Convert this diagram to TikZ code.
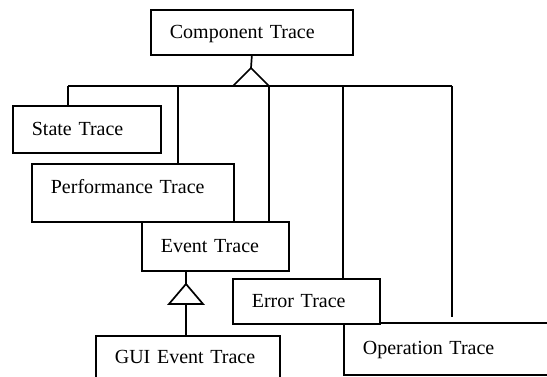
\documentclass[tikz,border=0pt]{standalone}
\usepackage{fontspec}
\setmainfont{Liberation Serif}
\begin{document}
\begin{tikzpicture}[x=1pt,y=-1pt,line width=1.7pt,
  cls/.style={draw,fill=white,anchor=north west,align=left,inner xsep=19pt,inner ysep=0pt,
    text height=14pt,text depth=2pt,font=\fontsize{20}{24}\selectfont}]
\useasboundingbox (0,0) rectangle (547,377);

% classes
\node[cls,text width=164pt,minimum height=45pt] (comp) at (150,9) {Component Trace};
\node[cls,text width=110pt,minimum height=47pt] (state) at (12,105) {State Trace};
\node[cls,text width=164pt,minimum height=58pt,text depth=12pt] (perf) at (31,163) {Performance Trace};
\node[cls,text width=109pt,minimum height=49pt] (event) at (141,221) {Event Trace};
\node[cls,text width=182pt,minimum height=52pt] (op) at (343,322) {Operation Trace};
\node[cls,text width=109pt,minimum height=45pt] (err) at (232,278) {Error Trace};
\node[cls,text width=146pt,minimum height=43pt] (gui) at (95,335) {GUI Event Trace};

% inheritance from Component Trace
\coordinate (apex1) at (251,68);
\draw (comp.south) -- (apex1);
\draw (apex1) -- ++(-18,18) -- ++(36,0) -- cycle;
\coordinate (b1) at (68,86);
\coordinate (b2) at (178,86);
\coordinate (b3) at (269,86);
\coordinate (b4) at (343,86);
\coordinate (b5) at (452,86);
\draw (b1) -- (b5);
\draw (b1) -- (b1 |- state.north);
\draw (b2) -- (b2 |- perf.north);
\draw (b3) -- (b3 |- event.north);
\draw (b4) -- (b4 |- err.north);
\draw[shorten >=5pt] (b5) -- (b5 |- op.north);

% inheritance from Event Trace
\coordinate (apex2) at (186,284);
\coordinate (base2) at (186,304);
\draw (apex2 |- event.south) -- (apex2);
\draw (apex2) -- ++(-17,20) -- ++(34,0) -- cycle;
\draw (base2) -- (base2 |- gui.north);
\end{tikzpicture}
\end{document}
